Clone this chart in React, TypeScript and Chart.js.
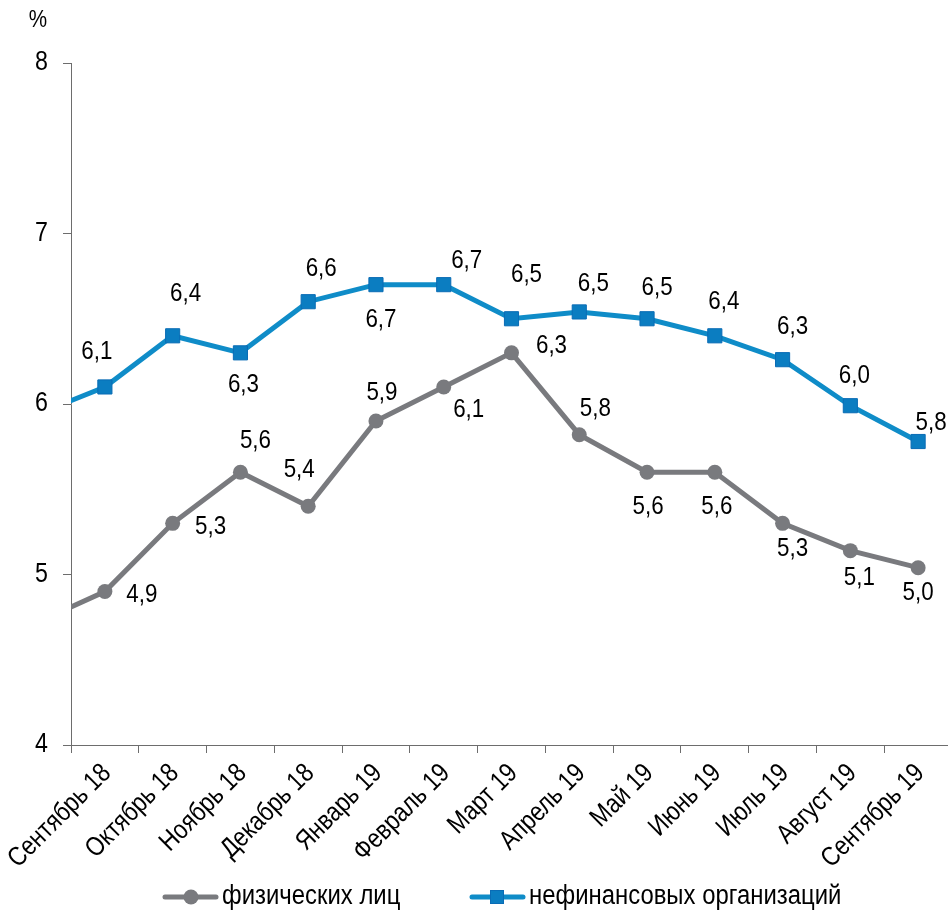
import React, { useEffect, useRef } from 'react';
import { Chart, registerables } from 'chart.js';

Chart.register(...registerables);

// ---- data ----
const categories = [
  'Сентябрь 18', 'Октябрь 18', 'Ноябрь 18', 'Декабрь 18', 'Январь 19', 'Февраль 19',
  'Март 19', 'Апрель 19', 'Май 19', 'Июнь 19', 'Июль 19', 'Август 19', 'Сентябрь 19',
];
const seriesNames = ['физических лиц', 'нефинансовых организаций'];
// value of the month before the first category (line enters from the axis)
const individualsPrev = 4.72;
const individuals = [4.9, 5.3, 5.6, 5.4, 5.9, 6.1, 6.3, 5.82, 5.6, 5.6, 5.3, 5.14, 5.04];
const corporatePrev = 5.94;
const corporate = [6.1, 6.4, 6.3, 6.6, 6.7, 6.7, 6.5, 6.54, 6.5, 6.4, 6.26, 5.99, 5.78];
const yTicks = [4, 5, 6, 7, 8];
const unitLabel = '%';

// ---- label placement (offset of each value label from its point) ----
const individualsLabelOffsets = [
  [37, 3], [38, 3], [15, -31], [-9, -36], [6, -28], [25, 23], [40, -7],
  [16, -26], [1, 35], [2, 35], [10, 25], [9, 27], [0, 25],
];
const corporateLabelOffsets = [
  [-8, -35], [13, -42], [3, 32], [13, -33], [5, 35], [23, -24], [15, -44],
  [14, -28], [10, -31], [9, -34], [10, -33], [4, -30], [13, -19],
];

// ---- styles ----
const FONT = "'Liberation Sans', Arial, sans-serif";
const SX = 0.86; // horizontal condensing of text
const GRAY = '#797a7e';
const BLUE = '#0f8cc8';
const BLUE_MARK = '#0b7dc1';
const BLUE_MARK_BORDER = '#0a6cb5';
const AXIS = '#6d6d6d';
const W = 952;
const H = 917;

const fmt = (v: number) => v.toFixed(1).replace('.', ',');

function drawText(
  ctx: CanvasRenderingContext2D,
  text: string,
  x: number,
  y: number,
  size: number,
  align: CanvasTextAlign = 'center',
  rot = 0,
  sx = SX,
) {
  ctx.save();
  ctx.translate(x, y);
  if (rot) ctx.rotate(rot);
  ctx.scale(sx, 1);
  ctx.font = `${size}px ${FONT}`;
  ctx.textAlign = align;
  ctx.textBaseline = 'middle';
  ctx.fillStyle = '#000';
  ctx.fillText(text, 0, 0);
  ctx.restore();
}

const overlayPlugin = {
  id: 'overlay',
  afterDraw(chart: any) {
    const ctx = chart.ctx as CanvasRenderingContext2D;
    const xs = chart.scales.x;
    const ys = chart.scales.y;
    ctx.save();

    // value labels
    const groups = [
      { values: individuals, offs: individualsLabelOffsets },
      { values: corporate, offs: corporateLabelOffsets },
    ];
    groups.forEach((g, di) => {
      const meta = chart.getDatasetMeta(di);
      g.values.forEach((v, i) => {
        const pt = meta.data[i + 1];
        if (!pt) return;
        drawText(ctx, fmt(v), pt.x + g.offs[i][0], pt.y + g.offs[i][1], 26);
      });
    });

    // y tick labels
    yTicks.forEach((v) => {
      drawText(ctx, String(v), 48, ys.getPixelForValue(v), 27, 'right');
    });
    // unit label
    drawText(ctx, unitLabel, 47, 20, 24, 'right');

    // x category labels (rotated 45°)
    categories.forEach((c, i) => {
      const px = xs.getPixelForValue(i);
      drawText(ctx, c, px + 2, xs.top + 24, 27, 'right', -Math.PI / 4, 0.84);
    });

    // legend
    const ly = 897;
    ctx.lineWidth = 5;
    ctx.lineCap = 'round';
    ctx.strokeStyle = GRAY;
    ctx.beginPath();
    ctx.moveTo(165, ly);
    ctx.lineTo(216, ly);
    ctx.stroke();
    ctx.fillStyle = GRAY;
    ctx.beginPath();
    ctx.arc(191, ly, 7.5, 0, Math.PI * 2);
    ctx.fill();
    drawText(ctx, seriesNames[0], 222, ly, 27, 'left', 0, 0.885);

    ctx.strokeStyle = BLUE;
    ctx.beginPath();
    ctx.moveTo(472, ly);
    ctx.lineTo(523, ly);
    ctx.stroke();
    ctx.fillStyle = BLUE_MARK;
    ctx.strokeStyle = BLUE_MARK_BORDER;
    ctx.lineWidth = 1;
    ctx.fillRect(490, ly - 7, 14, 14);
    ctx.strokeRect(490.5, ly - 6.5, 13, 13);
    drawText(ctx, seriesNames[1], 529, ly, 27, 'left', 0, 0.885);
    ctx.restore();
  },
};

export default function App() {
  const ref = useRef<HTMLCanvasElement | null>(null);

  useEffect(() => {
    if (!ref.current) return;
    const toPoints = (prev: number, arr: number[]) => [
      { x: -1, y: prev },
      ...arr.map((v, i) => ({ x: i, y: v })),
    ];
    const chart = new Chart(ref.current, {
      type: 'line',
      data: {
        datasets: [
          {
            label: seriesNames[0],
            data: toPoints(individualsPrev, individuals),
            xAxisID: 'xl',
            yAxisID: 'y',
            borderColor: GRAY,
            backgroundColor: GRAY,
            borderWidth: 5,
            pointStyle: 'circle',
            pointRadius: (c: any) => (c.dataIndex === 0 ? 0 : 7.5),
            pointBackgroundColor: GRAY,
            pointBorderWidth: 0,
            tension: 0,
          },
          {
            label: seriesNames[1],
            data: toPoints(corporatePrev, corporate),
            xAxisID: 'xl',
            yAxisID: 'y',
            borderColor: BLUE,
            backgroundColor: BLUE_MARK,
            borderWidth: 5,
            pointStyle: 'rect',
            pointRadius: (c: any) => (c.dataIndex === 0 ? 0 : 10),
            pointBackgroundColor: BLUE_MARK,
            pointBorderColor: BLUE_MARK_BORDER,
            pointBorderWidth: 1,
            tension: 0,
          },
        ],
      },
      options: {
        animation: false,
        responsive: false,
        maintainAspectRatio: false,
        layout: { autoPadding: false, padding: { top: 63, bottom: 62, left: 0, right: 0 } },
        plugins: {
          legend: { display: false },
          tooltip: { enabled: false },
        },
        scales: {
          x: {
            type: 'category',
            labels: categories,
            offset: true,
            position: 'bottom',
            grid: {
              offset: true,
              drawOnChartArea: false,
              drawTicks: true,
              tickLength: 8,
              color: AXIS,
              lineWidth: 1,
            },
            border: { display: true, color: AXIS, width: 1 },
            ticks: { display: false, autoSkip: false },
            afterFit: (s: any) => {
              s.height = 110;
            },
          },
          xl: {
            type: 'linear',
            display: false,
            min: -0.5,
            max: 12.5,
          },
          y: {
            type: 'linear',
            min: yTicks[0],
            max: yTicks[yTicks.length - 1],
            position: 'left',
            grid: {
              drawOnChartArea: false,
              drawTicks: true,
              tickLength: 8,
              color: AXIS,
              lineWidth: 1,
            },
            border: { display: true, color: AXIS, width: 1 },
            ticks: { display: false, stepSize: 1 },
            afterFit: (s: any) => {
              s.width = 71;
            },
          },
        },
      } as any,
      plugins: [overlayPlugin],
    });
    return () => chart.destroy();
  }, []);

  return (
    <div style={{ position: 'fixed', left: 0, top: 0, width: W, height: H, background: '#fff' }}>
      <canvas ref={ref} width={W} height={H} style={{ width: W, height: H, display: 'block' }} />
    </div>
  );
}
